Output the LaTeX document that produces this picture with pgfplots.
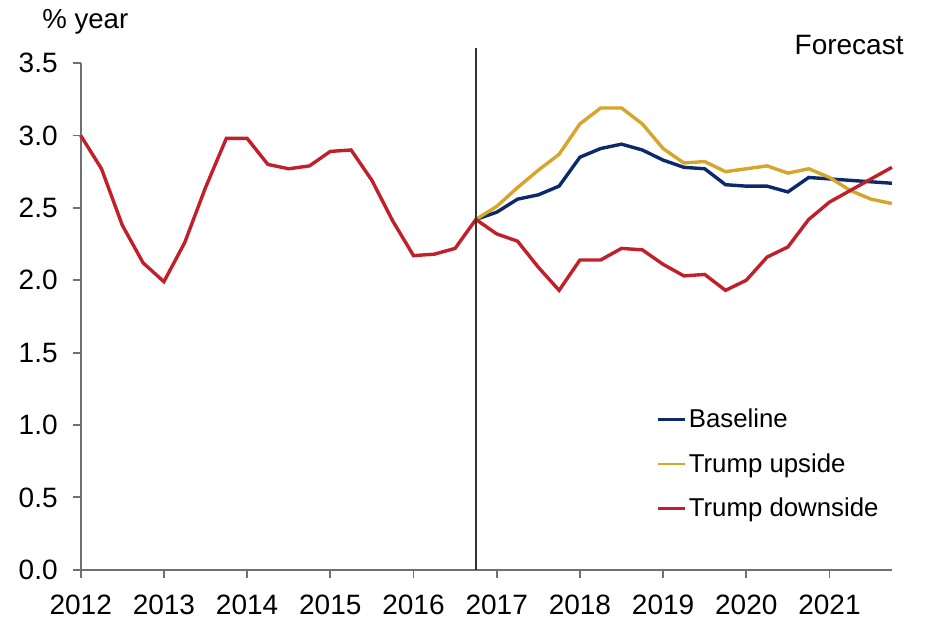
\documentclass[border=0pt]{standalone}
\usepackage{fontspec}
\setmainfont{Liberation Sans}
\usepackage{pgfplots}
\pgfplotsset{compat=1.18}
\usepackage{pgfplotstable}
\definecolor{navy}{HTML}{0A2A6B}
\definecolor{gold}{HTML}{D6A52A}
\definecolor{tred}{HTML}{C1202A}
\definecolor{axgray}{HTML}{707070}

\pgfplotstableread{
x y
2012.00 3.00
2012.25 2.77
2012.50 2.38
2012.75 2.12
2013.00 1.99
2013.25 2.26
2013.50 2.64
2013.75 2.98
2014.00 2.98
2014.25 2.80
2014.50 2.77
2014.75 2.79
2015.00 2.89
2015.25 2.90
2015.50 2.69
2015.75 2.41
2016.00 2.17
2016.25 2.18
2016.50 2.22
2016.75 2.42
2017.00 2.32
2017.25 2.27
2017.50 2.09
2017.75 1.93
2018.00 2.14
2018.25 2.14
2018.50 2.22
2018.75 2.21
2019.00 2.11
2019.25 2.03
2019.50 2.04
2019.75 1.93
2020.00 2.00
2020.25 2.16
2020.50 2.23
2020.75 2.42
2021.00 2.54
2021.25 2.62
2021.50 2.70
2021.75 2.78
}\downside

\pgfplotstableread{
x y
2016.75 2.42
2017.00 2.47
2017.25 2.56
2017.50 2.59
2017.75 2.65
2018.00 2.85
2018.25 2.91
2018.50 2.94
2018.75 2.90
2019.00 2.83
2019.25 2.78
2019.50 2.77
2019.75 2.66
2020.00 2.65
2020.25 2.65
2020.50 2.61
2020.75 2.71
2021.00 2.70
2021.25 2.69
2021.50 2.68
2021.75 2.67
}\baseline

\pgfplotstableread{
x y
2016.75 2.42
2017.00 2.51
2017.25 2.64
2017.50 2.76
2017.75 2.87
2018.00 3.08
2018.25 3.19
2018.50 3.19
2018.75 3.08
2019.00 2.91
2019.25 2.81
2019.50 2.82
2019.75 2.75
2020.00 2.77
2020.25 2.79
2020.50 2.74
2020.75 2.77
2021.00 2.71
2021.25 2.62
2021.50 2.56
2021.75 2.53
}\upside

\begin{document}
\begin{tikzpicture}
\begin{axis}[
  scale only axis,
  width=405.65pt, height=253.35pt,
  xmin=2012, xmax=2021.75,
  ymin=0, ymax=3.5,
  clip=false,
  axis x line*=bottom,
  axis y line*=left,
  axis line style={axgray, line width=0.9pt},
  tick style={axgray, line width=0.9pt},
  tick align=outside,
  major tick length=4pt,
  xtick={2012,2013,...,2021},
  ytick={0,0.5,...,3.5},
  xticklabels={2012,2013,2014,2015,2016,2017,2018,2019,2020,2021},
  /pgf/number format/assume math mode=true,
  yticklabel style={/pgf/number format/fixed, /pgf/number format/fixed zerofill, /pgf/number format/precision=1, font=\fontsize{14}{16}\selectfont, xshift=-4pt},
  xticklabel style={font=\fontsize{14}{16}\selectfont, yshift=-5pt},
  legend style={draw=none, fill=none, at={(axis cs:2018.927,1.112)}, anchor=north west,
    inner sep=0pt, outer sep=0pt, row sep=9.75pt,
    font=\fontsize{12.9}{15}\selectfont,
    nodes={inner sep=0pt, text height=9.5pt, text depth=3pt}},
  legend cell align=left,
  legend image code/.code={\draw[#1, line width=1.2pt] (0pt,0.9pt) -- (13.5pt,0.9pt);},
]
\addplot[navy, line width=1.7pt] table[x=x,y=y] {\baseline};
\addlegendentry{\hspace{1.2pt}Baseline}
\addplot[gold, line width=1.7pt] table[x=x,y=y] {\upside};
\addlegendentry{\hspace{1.2pt}Trump upside}
\addplot[tred, line width=1.7pt] table[x=x,y=y] {\downside};
\addlegendentry{\hspace{1.2pt}Trump downside}
\draw[black!80, line width=0.65pt] (axis cs:2016.75,0) -- (axis cs:2016.75,3.605);
\node[anchor=base west, inner sep=0pt, font=\fontsize{13.8}{16}\selectfont] at (axis cs:2011.535,3.736) {\% year};
\node[anchor=base east, inner sep=0pt, font=\fontsize{14}{16}\selectfont] at (axis cs:2021.895,3.557) {Forecast};
\coordinate (bl) at (axis cs:2011.03,-0.3315);
\coordinate (tr) at (axis cs:2022.184,3.936);
\end{axis}
\pgfresetboundingbox
\useasboundingbox (bl) rectangle (tr);
\end{tikzpicture}
\end{document}
